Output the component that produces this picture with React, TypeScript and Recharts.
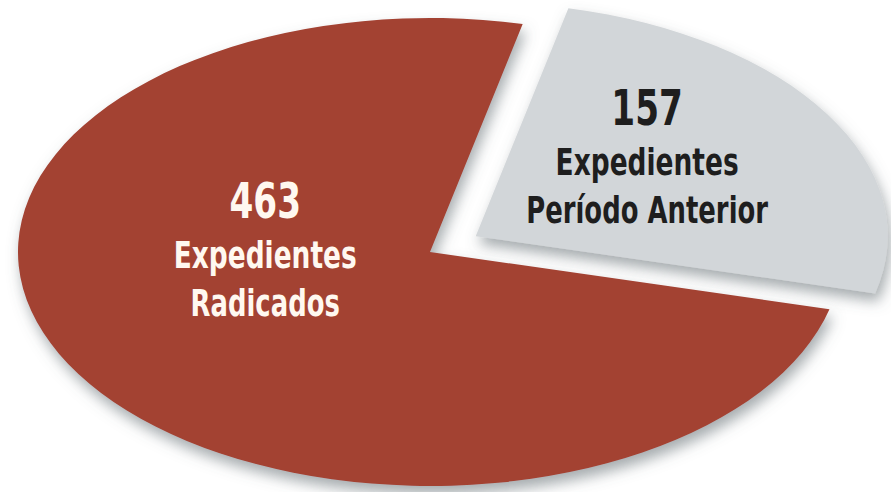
import React from 'react';
import { PieChart, Pie, Cell } from 'recharts';

const CATEGORIES = ['Expedientes Período Anterior', 'Expedientes Radicados'];
const VALUES = [157, 463];
const LABEL_LINES = [
  ['Expedientes', 'Período Anterior'],
  ['Expedientes', 'Radicados'],
];
const COLORS = ['#D2D6D9', '#A34232'];
const TEXT_COLORS = ['#1E1E1E', '#FFF8F0'];

const data = CATEGORIES.map((name, i) => ({ name, value: VALUES[i] }));

const W = 891;
const H = 492;
const CX = 430;
const CY = 252;
const RY = 234;
const SX = 412 / 234;
const RAD = Math.PI / 180;
const START = 77;

// explosion per slice (fraction of radius), label anchors relative to the pie centre
const EXPLODE_BY_COLOR: Record<string, number> = { '#D2D6D9': 0.13, '#A34232': 0 };
const LABEL_LAYOUT = [
  { ax: 0.527, ay: -0.543 },
  { ax: -0.4, ay: -0.145 },
];

function EllipseSector(props: any) {
  const { cx, cy, outerRadius, startAngle, endAngle, fill } = props;
  const rx = outerRadius * SX;
  const ry = outerRadius;
  const ex0 = EXPLODE_BY_COLOR[fill] ?? 0;
  const mid = ((startAngle + endAngle) / 2) * RAD;
  const x0 = cx + ex0 * rx * Math.cos(mid);
  const y0 = cy - ex0 * ry * Math.sin(mid);
  const p = (a: number) => [x0 + rx * Math.cos(a * RAD), y0 - ry * Math.sin(a * RAD)];
  const [sx, sy] = p(startAngle);
  const [ex, ey] = p(endAngle);
  const delta = endAngle - startAngle;
  const large = Math.abs(delta) > 180 ? 1 : 0;
  const sweep = delta < 0 ? 1 : 0;
  const id = 'shd' + String(fill).replace('#', '');
  const d = `M${x0},${y0} L${sx},${sy} A${rx},${ry} 0 ${large} ${sweep} ${ex},${ey} Z`;
  return (
    <g>
      <defs>
        <filter id={id} x="-20%" y="-20%" width="140%" height="150%">
          <feDropShadow dx="3" dy="8" stdDeviation="7" floodColor="#5d666c" floodOpacity="0.55" />
        </filter>
      </defs>
      <path d={d} fill={fill} filter={`url(#${id})`} />
    </g>
  );
}

function renderLabel(props: any) {
  const { index } = props;
  const cx = props.cx ?? CX;
  const cy = props.cy ?? CY;
  const r = props.outerRadius ?? RY;
  const lay = LABEL_LAYOUT[index];
  const x = cx + lay.ax * r * SX;
  const y = cy + lay.ay * r;
  const color = TEXT_COLORS[index];
  const font = '"DejaVu Sans", "Liberation Sans", sans-serif';
  const lines = LABEL_LINES[index];
  return (
    <g key={'lbl' + index}>
      <text
        transform={`translate(${x},${y}) scale(0.7,1)`}
        textAnchor="middle"
        fill={color}
        fontFamily={font}
        fontWeight="bold"
        fontSize={49}
      >
        {VALUES[index]}
      </text>
      <text
        transform={`translate(${x},${y + 50}) scale(0.715,1)`}
        textAnchor="middle"
        fill={color}
        fontFamily={font}
        fontWeight="bold"
        fontSize={37}
      >
        {lines[0]}
      </text>
      <text
        transform={`translate(${x},${y + 98}) scale(0.7,1)`}
        textAnchor="middle"
        fill={color}
        fontFamily={font}
        fontWeight="bold"
        fontSize={37}
      >
        {lines[1]}
      </text>
    </g>
  );
}

export default function App() {
  return (
    <div style={{ position: 'absolute', left: 0, top: 0, width: W, height: H, background: '#ffffff' }}>
      <PieChart width={W} height={H} margin={{ top: 0, right: 0, bottom: 0, left: 0 }}>
        <Pie
          data={data}
          dataKey="value"
          nameKey="name"
          cx={CX}
          cy={CY}
          outerRadius={RY}
          startAngle={START}
          endAngle={START - 360}
          stroke="none"
          shape={EllipseSector}
          label={renderLabel}
          labelLine={false}
          isAnimationActive={false}
        >
          {data.map((d, i) => (
            <Cell key={d.name} fill={COLORS[i]} />
          ))}
        </Pie>
      </PieChart>
    </div>
  );
}
